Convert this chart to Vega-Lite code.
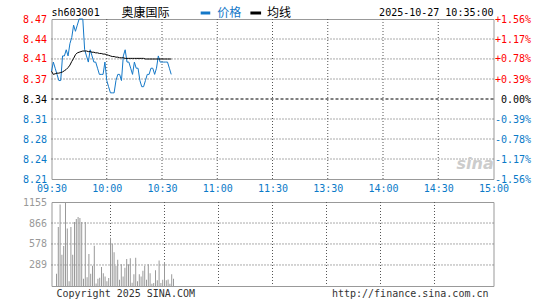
{
  "$schema": "https://vega.github.io/schema/vega-lite/v6.json",
  "padding": {"left": 21.5, "top": 6, "right": 0, "bottom": 0},
  "background": "white",
  "config": {
    "view": {"stroke": "#999", "strokeWidth": 1},
    "axis": {"labelFont": "DejaVu Sans Mono", "labelFontSize": 10, "tickSize": 0, "tickOpacity": 0, "domainOpacity": 0, "labelFlush": false, "labelOverlap": false, "grid": false},
    "text": {"font": "DejaVu Sans Mono", "fontSize": 10}
  },
  "datasets": {
    "timeGrid": [{"g": 30}, {"g": 60}, {"g": 90}, {"g": 120}, {"g": 150}, {"g": 180}, {"g": 210}],
    "priceGrid": [{"g": 8.2425}, {"g": 8.275}, {"g": 8.3075}, {"g": 8.3725}, {"g": 8.4051}, {"g": 8.4375}],
    "volGrid": [{"g": 289}, {"g": 578}, {"g": 866}]
  },
  "data": {"values": [
    {"m": 0, "price": 8.385, "avg": 8.385, "vol": 170},
    {"m": 1, "price": 8.40, "avg": 8.380, "vol": 810},
    {"m": 2, "price": 8.39, "avg": 8.381, "vol": 1120},
    {"m": 3, "price": 8.38, "avg": 8.382, "vol": 430},
    {"m": 4, "price": 8.37, "avg": 8.382, "vol": 550},
    {"m": 5, "price": 8.37, "avg": 8.383, "vol": 1155},
    {"m": 6, "price": 8.41, "avg": 8.384, "vol": 790},
    {"m": 7, "price": 8.41, "avg": 8.386, "vol": 65},
    {"m": 8, "price": 8.42, "avg": 8.388, "vol": 810},
    {"m": 9, "price": 8.41, "avg": 8.391, "vol": 430},
    {"m": 10, "price": 8.43, "avg": 8.395, "vol": 880},
    {"m": 11, "price": 8.44, "avg": 8.401, "vol": 920},
    {"m": 12, "price": 8.46, "avg": 8.406, "vol": 950},
    {"m": 13, "price": 8.45, "avg": 8.412, "vol": 935},
    {"m": 14, "price": 8.46, "avg": 8.415, "vol": 880},
    {"m": 15, "price": 8.47, "avg": 8.416, "vol": 100},
    {"m": 16, "price": 8.47, "avg": 8.417, "vol": 880},
    {"m": 17, "price": 8.47, "avg": 8.418, "vol": 120},
    {"m": 18, "price": 8.42, "avg": 8.418, "vol": 440},
    {"m": 19, "price": 8.41, "avg": 8.418, "vol": 170},
    {"m": 20, "price": 8.40, "avg": 8.417, "vol": 280},
    {"m": 21, "price": 8.42, "avg": 8.417, "vol": 555},
    {"m": 22, "price": 8.41, "avg": 8.416, "vol": 35},
    {"m": 23, "price": 8.40, "avg": 8.416, "vol": 100},
    {"m": 24, "price": 8.40, "avg": 8.415, "vol": 115},
    {"m": 25, "price": 8.39, "avg": 8.415, "vol": 260},
    {"m": 26, "price": 8.38, "avg": 8.414, "vol": 175},
    {"m": 27, "price": 8.38, "avg": 8.414, "vol": 130},
    {"m": 28, "price": 8.38, "avg": 8.413, "vol": 65},
    {"m": 29, "price": 8.40, "avg": 8.413, "vol": 110},
    {"m": 30, "price": 8.37, "avg": 8.412, "vol": 665},
    {"m": 31, "price": 8.36, "avg": 8.411, "vol": 580},
    {"m": 32, "price": 8.35, "avg": 8.410, "vol": 465},
    {"m": 33, "price": 8.35, "avg": 8.409, "vol": 280},
    {"m": 34, "price": 8.35, "avg": 8.409, "vol": 360},
    {"m": 35, "price": 8.37, "avg": 8.408, "vol": 85},
    {"m": 36, "price": 8.38, "avg": 8.408, "vol": 300},
    {"m": 37, "price": 8.38, "avg": 8.407, "vol": 130},
    {"m": 38, "price": 8.37, "avg": 8.407, "vol": 250},
    {"m": 39, "price": 8.41, "avg": 8.407, "vol": 370},
    {"m": 40, "price": 8.42, "avg": 8.406, "vol": 300},
    {"m": 41, "price": 8.40, "avg": 8.406, "vol": 380},
    {"m": 42, "price": 8.40, "avg": 8.406, "vol": 45},
    {"m": 43, "price": 8.39, "avg": 8.406, "vol": 160},
    {"m": 44, "price": 8.38, "avg": 8.406, "vol": 390},
    {"m": 45, "price": 8.40, "avg": 8.406, "vol": 65},
    {"m": 46, "price": 8.39, "avg": 8.406, "vol": 160},
    {"m": 47, "price": 8.39, "avg": 8.406, "vol": 130},
    {"m": 48, "price": 8.37, "avg": 8.406, "vol": 210},
    {"m": 49, "price": 8.36, "avg": 8.406, "vol": 280},
    {"m": 50, "price": 8.36, "avg": 8.406, "vol": 85},
    {"m": 51, "price": 8.37, "avg": 8.405, "vol": 300},
    {"m": 52, "price": 8.38, "avg": 8.405, "vol": 175},
    {"m": 53, "price": 8.38, "avg": 8.405, "vol": 30},
    {"m": 54, "price": 8.39, "avg": 8.405, "vol": 40},
    {"m": 55, "price": 8.39, "avg": 8.405, "vol": 215},
    {"m": 56, "price": 8.38, "avg": 8.405, "vol": 80},
    {"m": 57, "price": 8.39, "avg": 8.405, "vol": 350},
    {"m": 58, "price": 8.41, "avg": 8.405, "vol": 40},
    {"m": 59, "price": 8.40, "avg": 8.405, "vol": 85},
    {"m": 60, "price": 8.40, "avg": 8.405, "vol": 330},
    {"m": 61, "price": 8.40, "avg": 8.405, "vol": 80},
    {"m": 62, "price": 8.40, "avg": 8.405, "vol": 90},
    {"m": 63, "price": 8.40, "avg": 8.405, "vol": 30},
    {"m": 64, "price": 8.39, "avg": 8.405, "vol": 160},
    {"m": 65, "price": 8.38, "avg": 8.405, "vol": 100}
  ]},
  "spacing": 23,
  "bounds": "flush",
  "vconcat": [
    {
      "width": 442,
      "height": 160,
      "layer": [
        {
          "data": {"name": "timeGrid"},
          "mark": {"type": "rule", "color": "#555", "strokeDash": [1, 2], "strokeWidth": 1},
          "encoding": {"x": {"field": "g", "type": "quantitative", "axis": null}}
        },
        {
          "data": {"name": "priceGrid"},
          "mark": {"type": "rule", "color": "#555", "strokeDash": [1, 2], "strokeWidth": 1},
          "encoding": {"y": {"field": "g", "type": "quantitative", "axis": null}}
        },
        {
          "data": {"values": [{}]},
          "mark": {"type": "text", "text": "sina", "font": "DejaVu Sans", "fontSize": 16, "fontWeight": "bold", "fontStyle": "italic", "color": "#cccccc", "align": "center", "baseline": "middle"},
          "encoding": {"x": {"datum": 230, "type": "quantitative", "axis": null}, "y": {"datum": 8.234, "type": "quantitative", "axis": null}}
        },
        {
          "data": {"values": [{}]},
          "mark": {"type": "rule", "color": "#000", "strokeDash": [3, 2], "strokeWidth": 1},
          "encoding": {"y": {"datum": 8.34, "type": "quantitative", "axis": null}}
        },
        {
          "mark": {"type": "line", "color": "#1478c8", "strokeWidth": 1},
          "encoding": {
            "x": {"field": "m", "type": "quantitative", "scale": {"domain": [0, 240], "nice": false, "zero": false},
              "axis": {"title": null, "values": [0, 30, 60, 90, 120, 150, 180, 210, 240], "labelExpr": "['09:30','10:00','10:30','11:00','11:30','13:30','14:00','14:30','15:00'][round(datum.value/30)]", "labelColor": "#0a7ac8", "labelPadding": 4}},
            "y": {"field": "price", "type": "quantitative", "scale": {"domain": [8.21, 8.47], "nice": false, "zero": false},
              "axis": {"title": null, "orient": "left", "values": [8.21, 8.2425, 8.275, 8.3075, 8.34, 8.3725, 8.4051, 8.4375, 8.47], "labelExpr": "format(datum.value, '.2f')", "labelPadding": 5,
                "labelColor": {"condition": [{"test": "datum.value > 8.3401", "value": "#ff0000"}, {"test": "datum.value < 8.3399", "value": "#0a7ac8"}], "value": "#000000"}}}
          }
        },
        {
          "mark": {"type": "line", "color": "#000", "strokeWidth": 1},
          "encoding": {
            "x": {"field": "m", "type": "quantitative", "axis": null},
            "y": {"field": "avg", "type": "quantitative",
              "axis": {"title": null, "orient": "right", "values": [8.21, 8.2425, 8.275, 8.3075, 8.34, 8.3725, 8.4051, 8.4375, 8.47], "labelAlign": "right", "labelPadding": 37,
                "labelExpr": "datum.value > 8.3401 ? '+' + format((datum.value/8.34-1)*100, '.2f') + '%' : (datum.value < 8.3399 ? '-' + format((1-datum.value/8.34)*100, '.2f') + '%' : '0.00%')",
                "labelColor": {"condition": [{"test": "datum.value > 8.3401", "value": "#ff0000"}, {"test": "datum.value < 8.3399", "value": "#0a7ac8"}], "value": "#000000"}}}
          }
        },
        {
          "data": {"values": [{}]},
          "mark": {"type": "text", "text": "sh603001", "align": "left", "baseline": "middle", "dy": -6, "color": "#000"},
          "encoding": {"x": {"datum": 0, "type": "quantitative", "axis": null}, "y": {"datum": 8.47, "type": "quantitative", "axis": null}}
        },
        {
          "data": {"values": [{}]},
          "mark": {"type": "text", "text": "奥康国际", "font": "Noto Sans CJK SC", "fontSize": 12, "align": "left", "baseline": "middle", "dy": -6, "color": "#000"},
          "encoding": {"x": {"datum": 38, "type": "quantitative", "axis": null}, "y": {"datum": 8.47, "type": "quantitative", "axis": null}}
        },
        {
          "data": {"values": [{}]},
          "mark": {"type": "rule", "color": "#1478c8", "strokeWidth": 3, "yOffset": -6},
          "encoding": {"x": {"datum": 81, "type": "quantitative", "axis": null}, "x2": {"datum": 86.2}, "y": {"datum": 8.47, "type": "quantitative", "axis": null}}
        },
        {
          "data": {"values": [{}]},
          "mark": {"type": "text", "text": "价格", "font": "Noto Sans CJK SC", "fontSize": 12, "align": "left", "baseline": "middle", "dy": -6, "color": "#1478c8"},
          "encoding": {"x": {"datum": 90, "type": "quantitative", "axis": null}, "y": {"datum": 8.47, "type": "quantitative", "axis": null}}
        },
        {
          "data": {"values": [{}]},
          "mark": {"type": "rule", "color": "#000", "strokeWidth": 3, "yOffset": -6},
          "encoding": {"x": {"datum": 108, "type": "quantitative", "axis": null}, "x2": {"datum": 113.8}, "y": {"datum": 8.47, "type": "quantitative", "axis": null}}
        },
        {
          "data": {"values": [{}]},
          "mark": {"type": "text", "text": "均线", "font": "Noto Sans CJK SC", "fontSize": 12, "align": "left", "baseline": "middle", "dy": -6, "color": "#000"},
          "encoding": {"x": {"datum": 117, "type": "quantitative", "axis": null}, "y": {"datum": 8.47, "type": "quantitative", "axis": null}}
        },
        {
          "data": {"values": [{}]},
          "mark": {"type": "text", "text": "2025-10-27 10:35:00", "align": "right", "baseline": "middle", "dy": -6, "color": "#000"},
          "encoding": {"x": {"datum": 240, "type": "quantitative", "axis": null}, "y": {"datum": 8.47, "type": "quantitative", "axis": null}}
        }
      ],
      "resolve": {"axis": {"x": "independent", "y": "independent"}}
    },
    {
      "width": 442,
      "height": 84,
      "layer": [
        {
          "data": {"name": "timeGrid"},
          "mark": {"type": "rule", "color": "#555", "strokeDash": [1, 2], "strokeWidth": 1},
          "encoding": {"x": {"field": "g", "type": "quantitative", "axis": null}}
        },
        {
          "data": {"name": "volGrid"},
          "mark": {"type": "rule", "color": "#555", "strokeDash": [1, 2], "strokeWidth": 1},
          "encoding": {"y": {"field": "g", "type": "quantitative", "axis": null}}
        },
        {
          "mark": {"type": "bar", "color": "#999", "size": 1},
          "encoding": {
            "x": {"field": "m", "type": "quantitative", "scale": {"domain": [0, 240], "nice": false, "zero": false}, "axis": null},
            "y": {"field": "vol", "type": "quantitative", "scale": {"domain": [0, 1155], "nice": false},
              "axis": {"title": null, "values": [289, 578, 866, 1155], "format": "d", "labelColor": "#999", "labelPadding": 5}}
          }
        },
        {
          "data": {"values": [{}]},
          "mark": {"type": "text", "text": "Copyright 2025 SINA.COM", "align": "left", "baseline": "middle", "dy": 8, "color": "#333"},
          "encoding": {"x": {"datum": 0, "type": "quantitative", "axis": null}, "y": {"datum": 0, "type": "quantitative", "axis": null}}
        },
        {
          "data": {"values": [{}]},
          "mark": {"type": "text", "text": "http://finance.sina.com.cn", "align": "right", "baseline": "middle", "dy": 8, "color": "#333"},
          "encoding": {"x": {"datum": 240, "type": "quantitative", "axis": null}, "y": {"datum": 0, "type": "quantitative", "axis": null}}
        }
      ],
      "resolve": {"axis": {"x": "independent", "y": "independent"}}
    }
  ]
}
